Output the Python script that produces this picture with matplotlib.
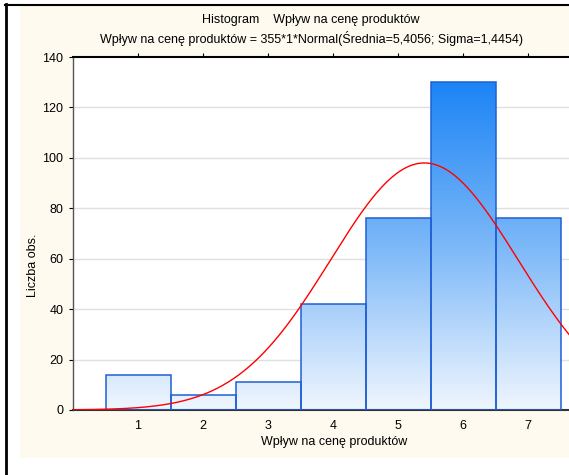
import numpy as np
import matplotlib
matplotlib.use("Agg")
import matplotlib.pyplot as plt
from matplotlib.patches import Rectangle
from matplotlib.lines import Line2D
from matplotlib.colors import LinearSegmentedColormap

plt.rcParams["font.family"] = ["Liberation Sans", "DejaVu Sans"]
plt.rcParams["font.size"] = 9

# Histogram counts per category
categories = [1, 2, 3, 4, 5, 6, 7]
counts = [14, 6, 11, 42, 76, 130, 76]
n_total = 355
mean = 5.4056
sigma = 1.4454

W, H = 569, 475
fig = plt.figure(figsize=(W / 100, H / 100), dpi=100)
fig.patch.set_facecolor("white")

# panel background and frame lines
fig.patches.append(Rectangle((20 / W, 1 - 458 / H), 1 - 20 / W, (458 - 5) / H,
                             transform=fig.transFigure, facecolor="#fefaef",
                             edgecolor="none", zorder=0))
fig.lines.append(Line2D([5.5 / W, 5.5 / W], [0, 1 - 4 / H], transform=fig.transFigure,
                        color="black", lw=2))
fig.lines.append(Line2D([5 / W, 1], [1 - 4.5 / H, 1 - 4.5 / H], transform=fig.transFigure,
                        color="black", lw=1.5))

# axes reaching past the right edge (x range 0..8)
left, right, top, bottom = 73, 593, 57, 410
ax = fig.add_axes([left / W, 1 - bottom / H, (right - left) / W, (bottom - top) / H])
ax.set_zorder(2)
ax.set_facecolor("white")

# vertical gradient clipped to each bar
cmap = LinearSegmentedColormap.from_list("bluegrad", ["#f0f6fe", "#7cb8f8", "#1c84f5"])
grad = np.linspace(0, 1, 256).reshape(-1, 1)
for c, v in zip(categories, counts):
    rect = Rectangle((c - 0.5, 0), 1, v, facecolor="none", edgecolor="#1f5fd6",
                     lw=1.1, zorder=3)
    ax.add_patch(rect)
    im = ax.imshow(grad, extent=[0, 8, 0, 130], origin="lower", aspect="auto",
                   cmap=cmap, zorder=2, interpolation="bilinear")
    im.set_clip_path(rect)

# fitted normal curve
xs = np.linspace(0, 8, 400)
ys = n_total * 1 * np.exp(-0.5 * ((xs - mean) / sigma) ** 2) / (sigma * np.sqrt(2 * np.pi))
ax.plot(xs, ys, color="#ff0000", lw=1.0, zorder=4)

ax.set_xlim(0, 8)
ax.set_ylim(0, 140)
ax.set_yticks(np.arange(0, 141, 20))
ax.set_xticks(categories)
ax.set_xticklabels([str(c) for c in categories])

for yv in range(20, 140, 20):
    ax.axhline(yv, color="#e0e0e0", lw=1, zorder=1)

ax.spines["left"].set_color("#555555")
ax.spines["left"].set_linewidth(1.0)
ax.spines["bottom"].set_color("#333333")
ax.spines["bottom"].set_linewidth(1.5)
ax.spines["top"].set_color("black")
ax.spines["top"].set_linewidth(1.5)
ax.spines["right"].set_visible(False)

ax.tick_params(axis="y", direction="out", length=3, width=0.8, pad=4, colors="black",
               labelsize=9)
ax.tick_params(axis="x", direction="in", length=3, width=0.8, pad=7, colors="black",
               top=True, labelsize=9)
# top ticks point outward
for t in ax.xaxis.get_major_ticks():
    t.tick2line.set_marker(2)
    t.tick2line.set_markersize(3)

fig.text(311 / W, 1 - 20 / H, "Histogram    Wpływ na cenę produktów",
         ha="center", va="center", fontsize=9)
fig.text(311 / W, 1 - 39 / H,
         "Wpływ na cenę produktów = 355*1*Normal(Średnia=5,4056; Sigma=1,4454)",
         ha="center", va="center", fontsize=9)
fig.text(334 / W, 1 - 442 / H, "Wpływ na cenę produktów", ha="center", va="center",
         fontsize=9)
fig.text(33 / W, 1 - 265 / H, "Liczba obs.", ha="center", va="center",
         rotation=90, fontsize=9)

fig.savefig("out.png", dpi=100)
